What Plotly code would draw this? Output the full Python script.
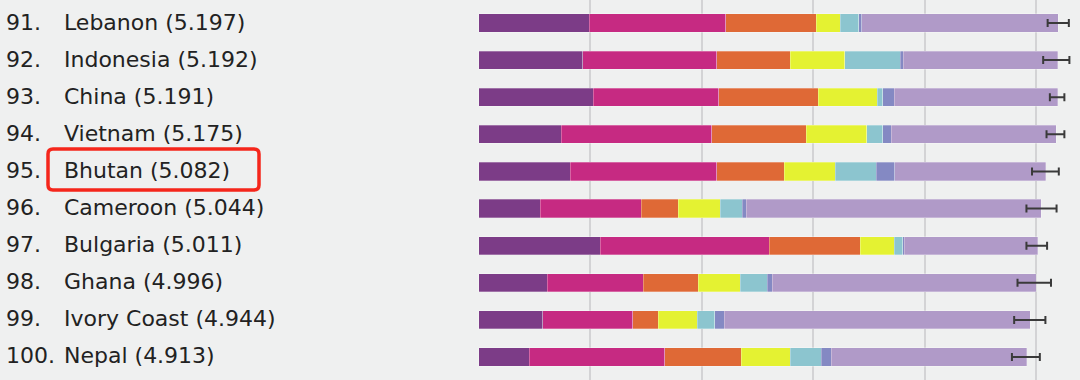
import plotly.graph_objects as go

ranks = ["91.", "92.", "93.", "94.", "95.", "96.", "97.", "98.", "99.", "100."]
countries = ["Lebanon", "Indonesia", "China", "Vietnam", "Bhutan",
             "Cameroon", "Bulgaria", "Ghana", "Ivory Coast", "Nepal"]
scores = [5.197, 5.192, 5.191, 5.175, 5.082, 5.044, 5.011, 4.996, 4.944, 4.913]

gdp        = [0.990, 0.934, 1.029, 0.740, 0.823, 0.552, 1.092, 0.617, 0.575, 0.453]
social     = [1.224, 1.200, 1.123, 1.349, 1.311, 0.908, 1.514, 0.860, 0.807, 1.215]
health     = [0.813, 0.658, 0.894, 0.846, 0.604, 0.331, 0.816, 0.490, 0.227, 0.685]
freedom    = [0.215, 0.489, 0.525, 0.544, 0.457, 0.376, 0.305, 0.377, 0.350, 0.439]
generosity = [0.167, 0.499, 0.051, 0.143, 0.367, 0.195, 0.074, 0.242, 0.157, 0.278]
corruption = [0.024, 0.027, 0.105, 0.078, 0.167, 0.036, 0.012, 0.045, 0.087, 0.089]
dystopia   = [1.764, 1.385, 1.464, 1.475, 1.353, 2.646, 1.198, 2.365, 2.741, 1.754]

ci_low  = [5.100, 5.060, 5.120, 5.090, 4.960, 4.910, 4.910, 4.830, 4.800, 4.780]
ci_high = [5.290, 5.295, 5.250, 5.250, 5.200, 5.180, 5.095, 5.130, 5.080, 5.030]

highlight = "Bhutan"

series = [
    ("GDP per capita", gdp, "#7c3c87"),
    ("Social support", social, "#c62a82"),
    ("Healthy life expectancy", health, "#df6936"),
    ("Freedom", freedom, "#e4f232"),
    ("Generosity", generosity, "#8cc5cf"),
    ("Perceptions of corruption", corruption, "#8489c3"),
    ("Dystopia + residual", dystopia, "#b09ac8"),
]

W, H = 1080, 380

fig = go.Figure()
for name, vals, col in series:
    fig.add_trace(go.Bar(
        y=countries, x=vals, orientation="h", name=name,
        marker=dict(color=col, line=dict(width=0.8, color="rgba(255,255,255,0.35)")),
        width=0.49, showlegend=False, hoverinfo="skip"))

fig.add_trace(go.Scatter(
    y=countries, x=scores, mode="markers",
    marker=dict(size=1, color="rgba(0,0,0,0)"),
    error_x=dict(type="data", symmetric=False,
                 array=[h - s for h, s in zip(ci_high, scores)],
                 arrayminus=[s - l for l, s in zip(ci_low, scores)],
                 color="#3a3a3a", thickness=2, width=4),
    showlegend=False, hoverinfo="skip"))

font_fam = "DejaVu Sans, sans-serif"
for r, c, s in zip(ranks, countries, scores):
    fig.add_annotation(x=0.004, xref="paper", y=c, yref="y", text=r,
                       showarrow=False, xanchor="left", yshift=1,
                       font=dict(family=font_fam, size=22, color="#222222"))
    fig.add_annotation(x=0.057, xref="paper", y=c, yref="y",
                       text=f"{c} ({s:.3f})", showarrow=False, xanchor="left", yshift=1,
                       font=dict(family=font_fam, size=22, color="#222222"))

# rounded highlight box (pixel frame of the label area)
bx0, bx1, by0, by1, rr = 48, 259, 149, 190, 5
def px(x): return x / W
def py(y): return 1 - y / H
path = (f"M {px(bx0+rr)},{py(by0)} L {px(bx1-rr)},{py(by0)} "
        f"Q {px(bx1)},{py(by0)} {px(bx1)},{py(by0+rr)} "
        f"L {px(bx1)},{py(by1-rr)} Q {px(bx1)},{py(by1)} {px(bx1-rr)},{py(by1)} "
        f"L {px(bx0+rr)},{py(by1)} Q {px(bx0)},{py(by1)} {px(bx0)},{py(by1-rr)} "
        f"L {px(bx0)},{py(by0+rr)} Q {px(bx0)},{py(by0)} {px(bx0+rr)},{py(by0)} Z")
fig.add_shape(type="path", xref="paper", yref="paper", path=path,
              line=dict(color="#f5261b", width=3.5))

fig.update_layout(
    width=W, height=H,
    margin=dict(l=0, r=0, t=0, b=0),
    paper_bgcolor="#eff0f0", plot_bgcolor="#eff0f0",
    barmode="stack", bargap=0.5,
    xaxis=dict(domain=[478 / W, 1], range=[-0.005, 5.39], dtick=1, tick0=0,
               showgrid=True, gridcolor="#d3d3d5", gridwidth=2,
               zeroline=False, showticklabels=False, ticks=""),
    yaxis=dict(categoryorder="array", categoryarray=countries,
               range=[9.62, -0.62], showticklabels=False, showgrid=False,
               zeroline=False),
)

fig.write_html("out.html", config={"displayModeBar": False},
               post_script="document.body.style.margin='0';document.body.style.background='#eff0f0';")
